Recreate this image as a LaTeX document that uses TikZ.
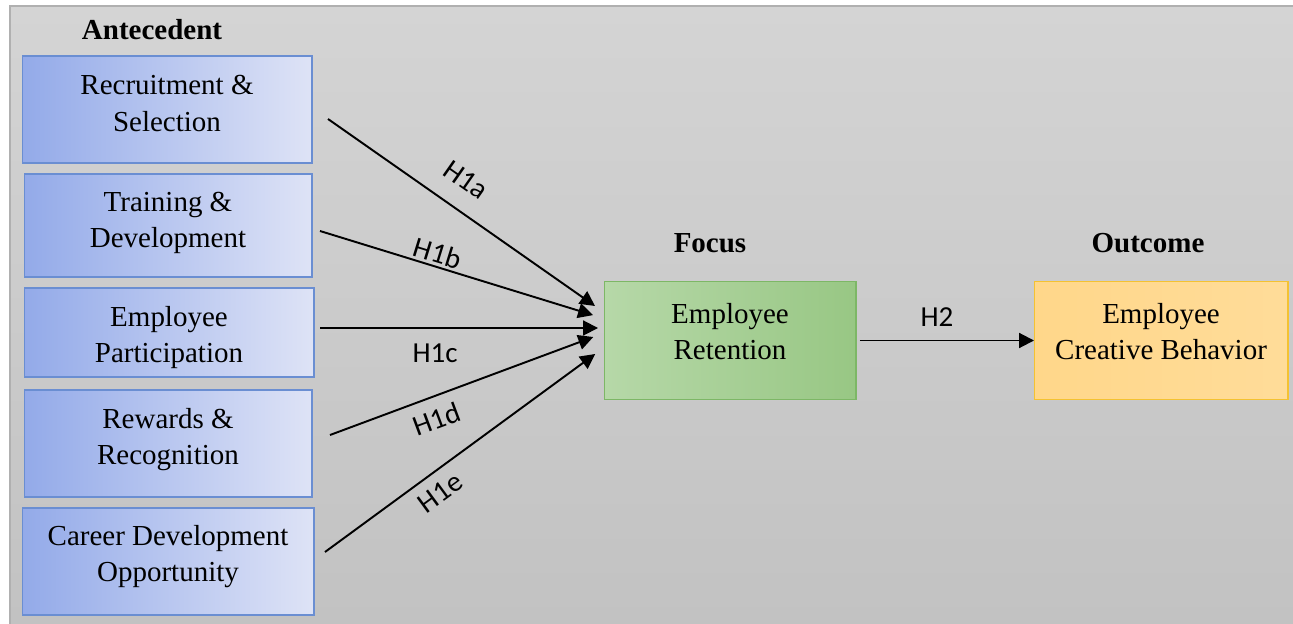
\documentclass[tikz,border=0pt]{standalone}
\usepackage{fontspec}
\setmainfont{Liberation Serif}
\newfontfamily\hypfont{Carlito}
\usepackage{xcolor}
\usetikzlibrary{arrows.meta,positioning,calc}
\definecolor{bgtop}{HTML}{D4D4D4}
\definecolor{bgbot}{HTML}{C2C2C2}
\definecolor{bgline}{HTML}{B0B0B0}
\definecolor{antL}{HTML}{93AAE9}
\definecolor{antR}{HTML}{DEE3F6}
\definecolor{antline}{HTML}{6A8ED2}
\definecolor{retL}{HTML}{B6D8A8}
\definecolor{retR}{HTML}{98C784}
\definecolor{retline}{HTML}{7DB766}
\definecolor{outL}{HTML}{FFD78A}
\definecolor{outR}{HTML}{FFDC99}
\definecolor{outline}{HTML}{F4C232}

\begin{document}
\begin{tikzpicture}[x=0.02cm,y=-0.02cm,
  txt/.style={font=\fontsize{16.5}{20.5}\selectfont,align=center},
  head/.style={font=\fontsize{16.5}{20.5}\selectfont\bfseries},
  ant/.style={draw=antline,line width=0.6pt,left color=antL,right color=antR,outer sep=0pt},
  retbox/.style={draw=retline,line width=0.6pt,left color=retL,right color=retR,outer sep=0pt},
  outbox/.style={draw=outline,line width=0.6pt,left color=outL,right color=outR,outer sep=0pt},
  hyp/.style={-{Triangle[length=8.5pt,width=8.5pt]},line width=1.1pt},
  hlab/.style={font=\hypfont\fontsize{16.5}{20}\selectfont,inner sep=0pt,sloped}]
  \useasboundingbox (0,0) rectangle (1293,624);
  % grey panel
  \shade[top color=bgtop,bottom color=bgbot] (10,6) rectangle (1293,624);
  \draw[bgline,line width=1.1pt] (10,624) |- (1293,6);
  % headings
  \node[head] (antec) at (152,30)  {Antecedent};
  \node[head] (foc)   at (710,243) {Focus};
  \node[head] (outc)  at (1148,243) {Outcome};
  % antecedents
  \node[ant,minimum width=5.8cm,minimum height=2.14cm,
    label={[txt,yshift=0.12cm]center:Recruitment \&\\Selection}] (A1) at (167,109.5) {};
  \node[ant,minimum width=5.76cm,minimum height=2.06cm,
    label={[txt,yshift=0.05cm]center:Training \&\\Development}] (A2) at (168,225.5) {};
  \node[ant,minimum width=5.8cm,minimum height=1.78cm,
    label={[txt,yshift=-0.1cm]center:Employee\\Participation}] (A3) at (169,332.5) {};
  \node[ant,minimum width=5.76cm,minimum height=2.14cm,
    label={[txt,yshift=0.08cm]center:Rewards \&\\Recognition}] (A4) at (168,443.5) {};
  \node[ant,minimum width=5.84cm,minimum height=2.14cm,
    label={[txt,yshift=0.09cm]center:Career Development\\Opportunity}] (A5) at (168,561.5) {};
  % focus and outcome
  \node[retbox,minimum width=5.04cm,minimum height=2.36cm,
    label={[txt,yshift=0.18cm]center:Employee\\Retention}] (ret) at (730,340.5) {};
  \node[outbox,minimum width=5.08cm,minimum height=2.36cm,
    label={[txt,yshift=0.18cm]center:Employee\\Creative Behavior}] (out) at (1161,340.5) {};
  % arrow tails
  \coordinate (s1) at (328,119);
  \coordinate (s2) at (320,231);
  \coordinate (s3) at (320,328);
  \coordinate (s4) at (330,435);
  \coordinate (s5) at (325,552);
  % hypotheses
  \draw[hyp,shorten >=0.22cm] (s1) -- node[hlab,pos=0.44,above=0.38cm]{H1a} ([yshift=0.564cm]ret.west);
  \draw[hyp,shorten >=0.23cm] (s2) -- node[hlab,pos=0.40,above=0.05cm]{H1b} ([yshift=0.44cm]ret.west);
  \draw[hyp,shorten >=0.12cm] (s3) -- node[hlab,pos=0.405,below=0.29cm]{H1c} ([yshift=0.25cm]ret.west);
  \draw[hyp,shorten >=0.23cm] (s4) -- node[hlab,pos=0.36,below=0.22cm]{H1d} ([yshift=0.15cm]ret.west);
  \draw[hyp,shorten >=0.22cm] (s5) -- node[hlab,pos=0.37,below=0.2cm]{H1e} ([yshift=-0.14cm]ret.west);
  \draw[hyp,shorten <=0.08cm] (ret) -- node[hlab,pos=0.455,above=0.27cm]{H2} (out);
\end{tikzpicture}
\end{document}
